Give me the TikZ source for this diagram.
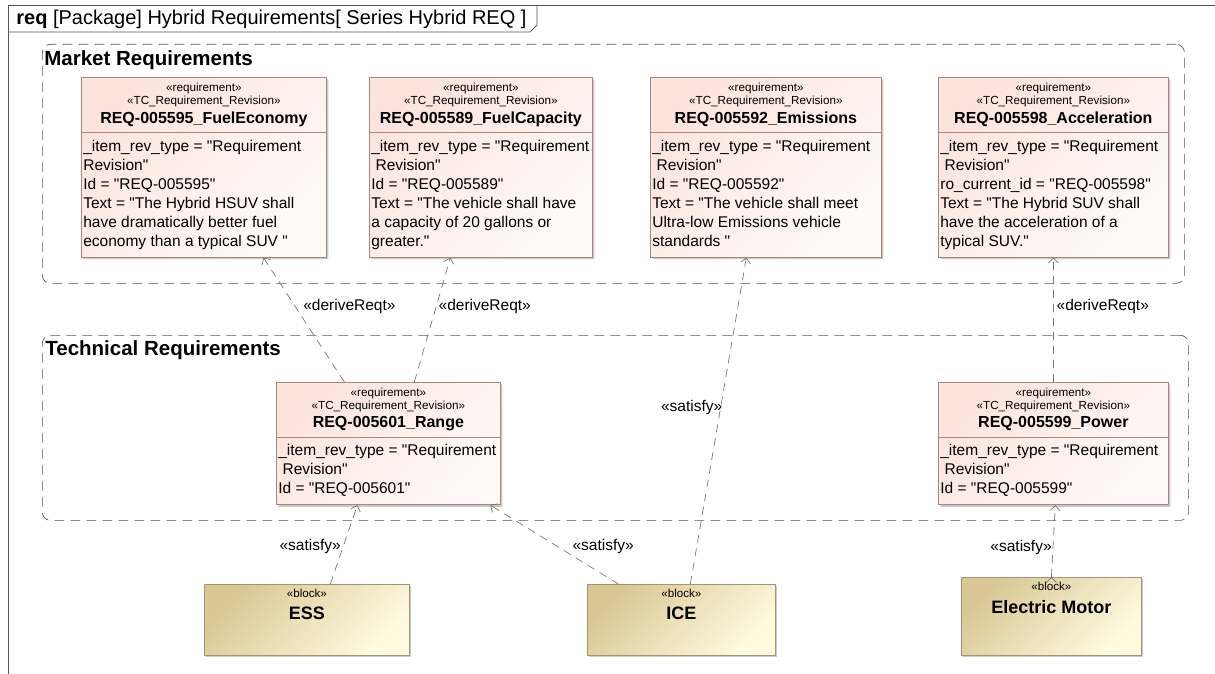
\documentclass[tikz,border=0pt]{standalone}
\usepackage{fontspec}
\setmainfont{Liberation Sans}[Ligatures=TeXOff]
\usetikzlibrary{arrows.meta,shapes.multipart,shadows,positioning}

\definecolor{reqline}{HTML}{A8887A}
\definecolor{reqpink}{HTML}{FCE4DD}
\definecolor{reqlight}{HTML}{FFFAF8}
\definecolor{blockline}{HTML}{A89272}
\definecolor{blockdark}{HTML}{D9C894}
\definecolor{blocklight}{HTML}{FFFBE0}
\definecolor{frameline}{HTML}{555555}
\definecolor{linkgray}{HTML}{777777}

\newcommand{\reqhead}[1]{{\fontsize{11.7}{13}\selectfont\begin{tabular}{@{}c@{}}«requirement»\\«TC\_Requirement\_Revision»\\[3pt]\fontsize{16}{19}\selectfont\bfseries #1\end{tabular}}}
\newcommand{\reqbody}[1]{{\fontsize{15.5}{19}\selectfont\begin{tabular}{@{}l@{}}#1\end{tabular}}}
\newcommand{\blockhead}[1]{{\fontsize{11.6}{13}\selectfont\begin{tabular}[t]{@{}c@{}}«block»\\[6pt]\fontsize{18}{20}\selectfont\bfseries #1\end{tabular}}}

\tikzset{
  req/.style={rectangle split, rectangle split parts=2,
    rectangle split part align={center,left},
    draw=reqline, top color=reqpink, bottom color=reqlight, shading angle=45,
    drop shadow={shadow xshift=2pt,shadow yshift=-2pt,opacity=0.3,fill=black!70},
    anchor=north west, inner xsep=2pt, inner ysep=5pt},
  block/.style={rectangle, draw=blockline, top color=blockdark, bottom color=blocklight, shading angle=45,
    drop shadow={shadow xshift=2pt,shadow yshift=-2pt,opacity=0.3,fill=black!70},
    anchor=north west, inner xsep=0pt, inner ysep=3pt, text height=10pt},
  pkg/.style={draw=frameline, dash pattern=on 10pt off 6pt, rounded corners=8pt,
    anchor=north west, inner sep=0pt},
  pkgtitle/.style={anchor=west, inner sep=0pt, font=\fontsize{20.5}{24}\selectfont\bfseries},
  link/.style={draw=linkgray, dash pattern=on 8pt off 6pt, ->},
  lbl/.style={font=\fontsize{15.5}{19}\selectfont, inner sep=0pt}
}

\begin{document}
\begin{tikzpicture}[x=1pt,y=-1pt,>={Straight Barb[length=5pt,width=10pt]},line width=0.7pt]
  \useasboundingbox (0,0) rectangle (1215,674);

  % diagram frame
  \draw[frameline] (8,674) -- (8,5) -- (1215,5);
  \draw[frameline] (8,32) -- (530,32) -- (537,25) -- (537,5);
  \node[anchor=west, inner sep=0pt, font=\fontsize{20}{24}\selectfont] (title) at (16,19.5)
    {\textbf{req} [Package] Hybrid Requirements[ Series Hybrid REQ ]};

  % packages
  \node[pkg, minimum width=1142pt, minimum height=239pt] (MKT) at (42,44) {};
  \node[pkgtitle] (MKTt) at (44,60) {Market Requirements};
  \node[pkg, minimum width=1146pt, minimum height=185pt] (TEC) at (42,335) {};
  \node[pkgtitle] (TECt) at (45,350) {Technical Requirements};

  % market requirements
  \node[req, minimum width=245pt] (FE) at (81,77)
    {\reqhead{REQ-005595\_FuelEconomy}
     \nodepart{two}\reqbody{\_item\_rev\_type = "Requirement\\Revision"\\Id = "REQ-005595"\\Text = "The Hybrid HSUV shall\\have dramatically better fuel\\economy than a typical SUV~"}};
  \node[req, minimum width=223pt] (FC) at (369,77)
    {\reqhead{REQ-005589\_FuelCapacity}
     \nodepart{two}\reqbody{\_item\_rev\_type = "Requirement\\~Revision"\\Id = "REQ-005589"\\Text = "The vehicle shall have\\a capacity of 20 gallons or\\greater."}};
  \node[req, minimum width=231pt] (EMI) at (650,77)
    {\reqhead{REQ-005592\_Emissions}
     \nodepart{two}\reqbody{\_item\_rev\_type = "Requirement\\~Revision"\\Id = "REQ-005592"\\Text = "The vehicle shall meet\\Ultra-low Emissions vehicle\\standards~"}};
  \node[req, minimum width=230pt] (ACC) at (938,77)
    {\reqhead{REQ-005598\_Acceleration}
     \nodepart{two}\reqbody{\_item\_rev\_type = "Requirement\\~Revision"\\ro\_current\_id = "REQ-005598"\\Text = "The Hybrid SUV shall\\have the acceleration of a\\typical SUV."}};

  % technical requirements
  \node[req, minimum width=224pt] (RNG) at (276,382)
    {\reqhead{REQ-005601\_Range}
     \nodepart{two}\reqbody{\_item\_rev\_type = "Requirement\\~Revision"\\Id = "REQ-005601"}};
  \node[req, minimum width=230pt] (PWR) at (938,382)
    {\reqhead{REQ-005599\_Power}
     \nodepart{two}\reqbody{\_item\_rev\_type = "Requirement\\~Revision"\\Id = "REQ-005599"}};

  % blocks
  \node[block, minimum width=205pt, text depth=55pt] (ESS) at (204,584) {\blockhead{ESS}};
  \node[block, minimum width=188pt, text depth=55pt] (ICE) at (587,584) {\blockhead{ICE}};
  \node[block, minimum width=180pt, text depth=62pt] (EMOT) at (961,577) {\blockhead{Electric Motor}};

  \path[link]
    ([xshift=-44pt]RNG.north) edge node[lbl, pos=0.61, anchor=west, xshift=8pt] {«deriveReqt»} ([xshift=59.5pt]FE.south)
    ([xshift=26pt]RNG.north)  edge node[lbl, pos=0.61, anchor=west, xshift=2pt] {«deriveReqt»} ([xshift=-30.5pt]FC.south)
    (PWR.north)               edge node[lbl, pos=0.61, anchor=west, xshift=3pt] {«deriveReqt»} (ACC.south)
    ([xshift=9pt]ICE.north)   edge node[lbl, pos=0.54, anchor=east, xshift=2pt] {«satisfy»} ([xshift=-19.5pt]EMI.south)
    ([xshift=23.5pt]ESS.north) edge node[lbl, pos=0.47, anchor=east, xshift=-2pt] {«satisfy»} ([xshift=-31pt]RNG.south)
    ([xshift=-63pt]ICE.north) edge node[lbl, pos=0.47, anchor=west, xshift=14pt] {«satisfy»} ([xshift=102pt]RNG.south)
    (EMOT.north)              edge node[lbl, pos=0.41, anchor=east, xshift=-1pt] {«satisfy»} ([xshift=2pt]PWR.south);
\end{tikzpicture}
\end{document}
